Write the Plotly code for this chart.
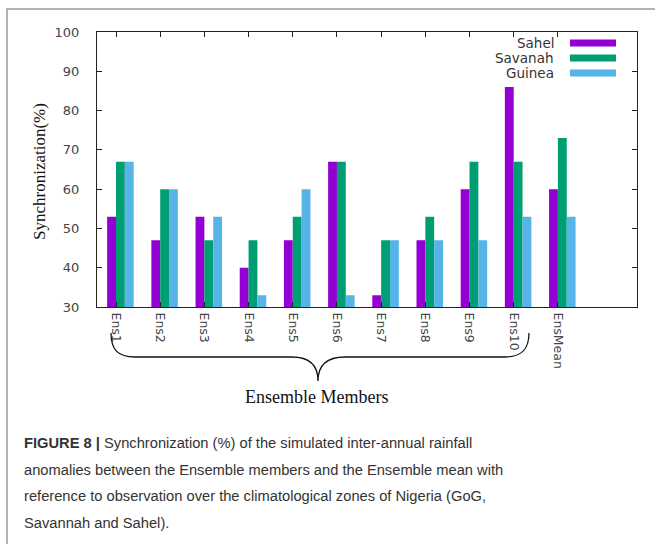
import plotly.graph_objects as go

categories = ["Ens1", "Ens2", "Ens3", "Ens4", "Ens5", "Ens6", "Ens7", "Ens8", "Ens9", "Ens10", "EnsMean"]
sahel = [53, 47, 53, 40, 47, 67, 33, 47, 60, 86, 60]
savanah = [67, 60, 47, 47, 53, 67, 47, 53, 67, 67, 73]
guinea = [67, 60, 53, 33, 60, 33, 47, 47, 47, 53, 53]
series_names = ["Sahel", "Savanah", "Guinea"]
colors = ["#9400D3", "#009E73", "#56B4E9"]
y_ticks = [30, 40, 50, 60, 70, 80, 90, 100]

W, H = 655, 544
L, R, T, B = 97, 637, 32, 307


def px(x):
    return (x - L) / (R - L)


def py(y):
    return (B - y) / (B - T)


xs = list(range(len(categories)))
fig = go.Figure()
offsets = [-0.2, 0.0, 0.2]
for name, vals, col, off in zip(series_names, [sahel, savanah, guinea], colors, offsets):
    fig.add_trace(go.Bar(x=xs, y=vals, name=name, marker=dict(color=col, line=dict(width=0)),
                         width=0.2, offset=off, showlegend=False))

axis_common = dict(showline=True, linecolor="#222", linewidth=1, mirror="ticks",
                   ticks="inside", ticklen=5, tickcolor="#222", showgrid=False, zeroline=False)
tick_font = "DejaVu Sans, Verdana, sans-serif"

fig.update_layout(
    width=W, height=H,
    margin=dict(l=L, r=W - R, t=T, b=H - B, pad=0),
    paper_bgcolor="white", plot_bgcolor="white",
    barmode="overlay",
    xaxis=dict(range=[-0.43, 11.79], tickmode="array", tickvals=xs, ticktext=categories,
               tickangle=90, tickfont=dict(family=tick_font, size=12.5, color="#444"),
               ticklabelstandoff=2, **axis_common),
    yaxis=dict(range=[30, 100], tickmode="array", tickvals=y_ticks,
               tickfont=dict(family=tick_font, size=13, color="#444"),
               ticklabelstandoff=14, **axis_common),
)

# y-axis title
fig.add_annotation(text="Synchronization(%)", x=px(40), y=py(172), xref="paper", yref="paper",
                   textangle=-90, showarrow=False, xanchor="center", yanchor="middle",
                   font=dict(family="Liberation Serif, Times New Roman, serif", size=17, color="#111"))

# legend (gnuplot style: text right, swatch)
for i, (name, col) in enumerate(zip(series_names, colors)):
    yy = 43 + i * 15
    fig.add_annotation(text=name, x=px(556), y=py(yy), xref="paper", yref="paper",
                       showarrow=False, xanchor="right", yanchor="middle",
                       font=dict(family=tick_font, size=13.5, color="#333"))
    fig.add_shape(type="rect", xref="paper", yref="paper", x0=px(570), x1=px(616),
                  y0=py(yy - 3.5), y1=py(yy + 3.5), fillcolor=col, line=dict(width=0))

# curly brace
pts = [("M", [(111, 333)]), ("C", [(111, 350), (118, 357), (135, 357)]), ("L", [(292, 357)]),
       ("C", [(310, 357), (318, 366), (318, 381)]), ("C", [(318, 366), (326, 357), (345, 357)]),
       ("L", [(505, 357)]), ("C", [(521, 357), (529, 350), (529, 333)])]
path = " ".join(c + " " + " ".join(f"{px(a):.5f},{py(b):.5f}" for a, b in p) for c, p in pts)
fig.add_shape(type="path", path=path, xref="paper", yref="paper", line=dict(color="#111", width=1.3))

fig.add_annotation(text="Ensemble Members", x=px(316), y=py(397), xref="paper", yref="paper",
                   showarrow=False, xanchor="center", yanchor="middle",
                   font=dict(family="Liberation Serif, Times New Roman, serif", size=18, color="#111"))

# page border
fig.add_shape(type="rect", xref="paper", yref="paper", x0=px(7), x1=px(700), y0=py(9), y1=py(600),
              line=dict(color="#999", width=1.5), layer="below")

caption = ["<b>FIGURE 8 |</b> Synchronization (%) of the simulated inter-annual rainfall",
           "anomalies between the Ensemble members and the Ensemble mean with",
           "reference to observation over the climatological zones of Nigeria (GoG,",
           "Savannah and Sahel)."]
for i, line in enumerate(caption):
    fig.add_annotation(text=line, x=px(22), y=py(443 + i * 26.5), xref="paper", yref="paper",
                       showarrow=False, xanchor="left", yanchor="middle",
                       font=dict(family="Liberation Sans, Arial, sans-serif", size=14.7, color="#333"))

fig.write_html("out.html", config={"displayModeBar": False},
               post_script="document.body.style.margin='0';document.body.style.overflow='hidden';")
